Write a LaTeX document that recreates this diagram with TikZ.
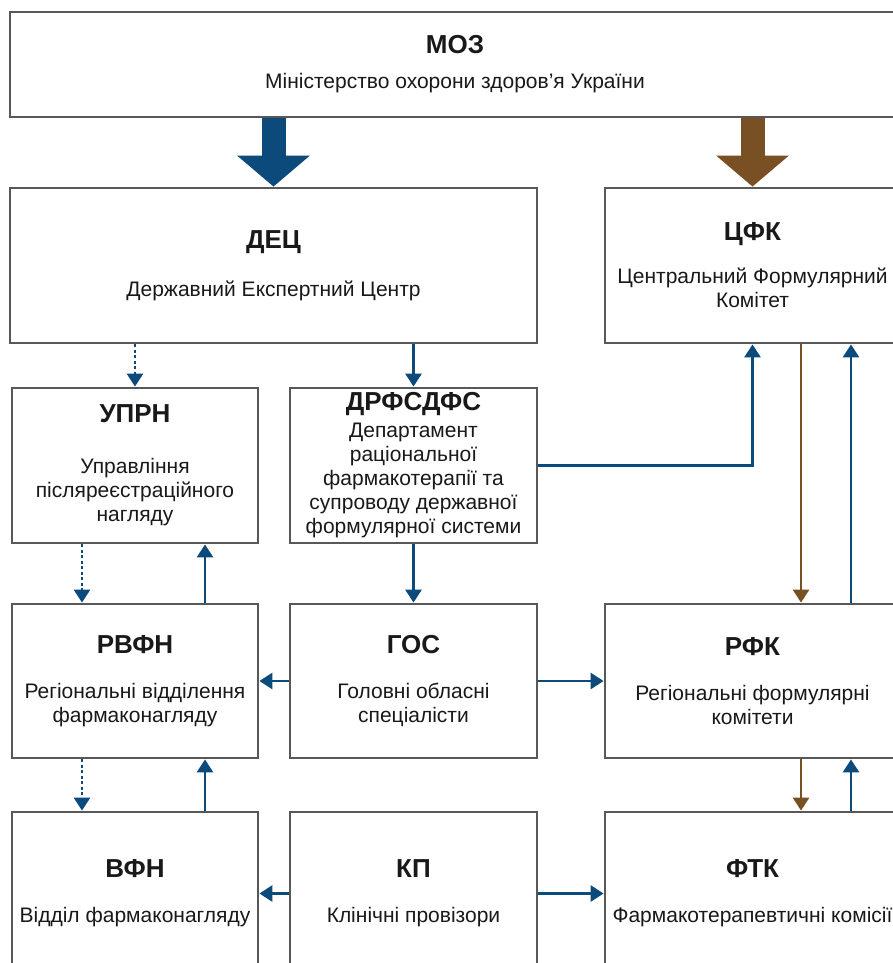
\documentclass[tikz,border=0pt]{standalone}
\usepackage{fontspec}
\setmainfont{Liberation Sans}
\usepackage{tikz}
\usetikzlibrary{arrows.meta, positioning, calc}

\definecolor{blu}{RGB}{12,74,124}
\definecolor{brn}{RGB}{120,80,36}
\definecolor{edge}{RGB}{88,88,88}
\newcommand{\boxtitle}[1]{{\fontsize{26}{30}\selectfont\bfseries #1}}

\begin{document}
\begin{tikzpicture}[x=1pt, y=-1pt,
    box/.style={rectangle, draw=edge, line width=2.8pt, fill=white, inner sep=0pt, align=center, font=\fontsize{21}{24}\selectfont, text=black!90},
    arrow/.style={-{Triangle[length=13pt, width=16pt]}, line width=2.8pt, blu},
    dotarrow/.style={arrow, dash pattern=on 3pt off 2.5pt},
    bigarrow/.style={-{Triangle[length=31pt, width=71pt]}, line width=24pt},
]
\useasboundingbox (0,0) rectangle (893,963);
\fill[white] (0,0) rectangle (893,963);
\clip (0,0) rectangle (893,963);

\node[box, minimum width=890pt, minimum height=105pt] (moz) at (455,64.5) {\boxtitle{МОЗ}\\[11pt]Міністерство охорони здоров’я України};

\node[box, minimum width=527pt, minimum height=155pt] (dec) at (273.5,265.5) {\boxtitle{ДЕЦ}\\[24pt]Державний Експертний Центр};
\node[box, minimum width=295pt, minimum height=155pt] (cfk) at (752.5,265.5) {\boxtitle{ЦФК}\\[19pt]Центральний Формулярний\\Комітет};

\node[box, minimum width=246pt, minimum height=155pt] (uprn) at (135,465.5) {\boxtitle{УПРН}\\[27pt]Управління\\післяреєстраційного\\нагляду};
\node[box, minimum width=247pt, minimum height=155pt] (drf) at (413.5,465.5) {\boxtitle{ДРФСДФС}\\[3pt]Департамент\\раціональної\\фармакотерапії та\\супроводу державної\\формулярної системи};

\node[box, minimum width=246pt, minimum height=154pt] (rvfn) at (135,681) {\boxtitle{РВФН}\\[21pt]Регіональні відділення\\фармаконагляду};
\node[box, minimum width=247pt, minimum height=154pt] (gos) at (413.5,681) {\boxtitle{ГОС}\\[21pt]Головні обласні\\спеціалісти};
\node[box, minimum width=295pt, minimum height=154pt] (rfk) at (752.5,681) {\boxtitle{РФК}\\[21pt]Регіональні формулярні\\комітети};

\node[box, minimum width=246pt, minimum height=163pt] (vfn) at (135,893.5) {\boxtitle{ВФН}\\[21pt]Відділ фармаконагляду};
\node[box, minimum width=247pt, minimum height=163pt] (kp) at (413.5,893.5) {\boxtitle{КП}\\[21pt]Клінічні провізори};
\node[box, minimum width=295pt, minimum height=163pt] (ftk) at (752.5,893.5) {\boxtitle{ФТК}\\[21pt]Фармакотерапевтичні комісії};

\coordinate (ldown) at (82,0);
\coordinate (lup) at (205,0);
\coordinate (rdown) at (801,0);
\coordinate (rup) at (851,0);

\draw[bigarrow, blu] (moz.south -| dec.north) -- (dec.north);
\draw[bigarrow, brn] (moz.south -| cfk.north) -- (cfk.north);

\draw[dotarrow] (dec.south -| uprn.north) -- (uprn.north);
\draw[arrow] (dec.south -| drf.north) -- (drf.north);
\draw[arrow] (drf.east) -| (cfk.south);
\draw[arrow, brn] (cfk.south -| rdown) -- (rfk.north -| rdown);
\draw[arrow] (rfk.north -| rup) -- (cfk.south -| rup);

\draw[dotarrow] (uprn.south -| ldown) -- (rvfn.north -| ldown);
\draw[arrow] (rvfn.north -| lup) -- (uprn.south -| lup);
\draw[arrow] (drf.south) -- (gos.north);
\draw[arrow] (gos.west) -- (rvfn.east);
\draw[arrow] (gos.east) -- (rfk.west);

\draw[dotarrow] (rvfn.south -| ldown) -- (vfn.north -| ldown);
\draw[arrow] (vfn.north -| lup) -- (rvfn.south -| lup);
\draw[arrow, brn] (rfk.south -| rdown) -- (ftk.north -| rdown);
\draw[arrow] (ftk.north -| rup) -- (rfk.south -| rup);
\draw[arrow] (kp.west) -- (vfn.east);
\draw[arrow] (kp.east) -- (ftk.west);
\end{tikzpicture}
\end{document}
